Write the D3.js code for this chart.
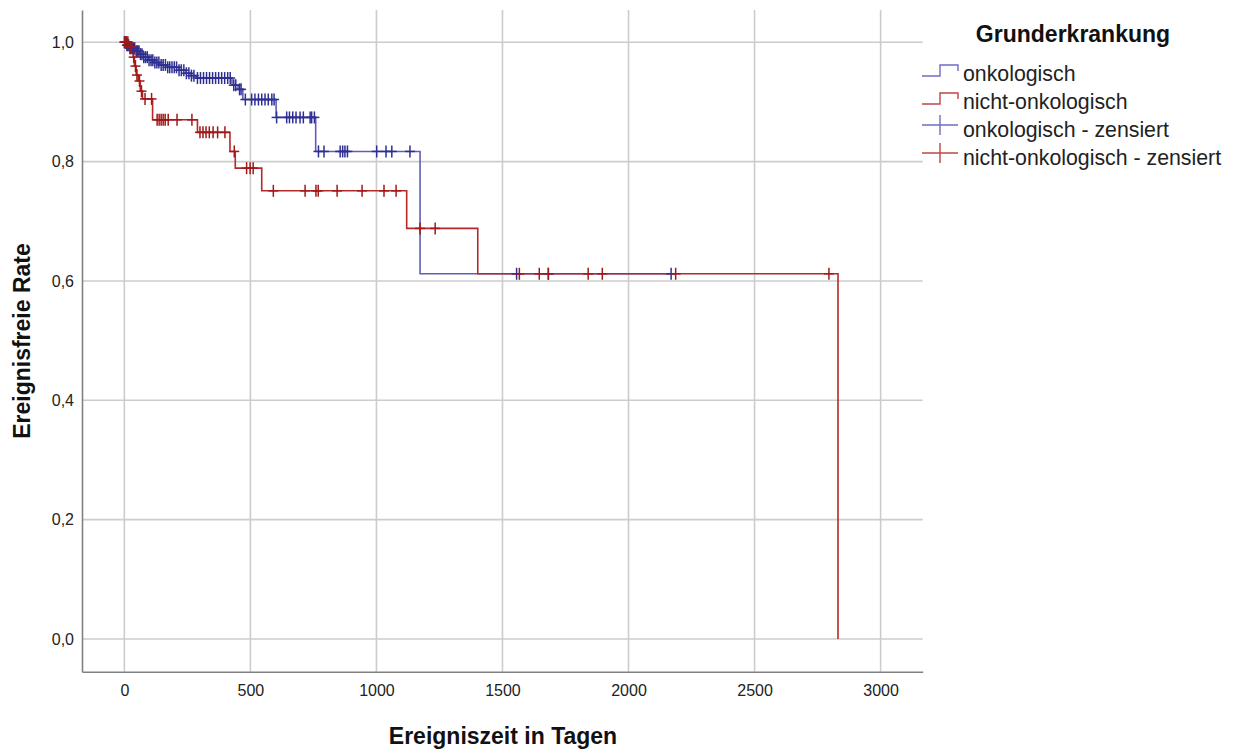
<!DOCTYPE html>
<html>
<head>
<meta charset="utf-8">
<script src="https://cdn.jsdelivr.net/npm/d3@7"></script>
<style>
  body { margin: 0; background: #fff; }
  svg { display: block; font-family: "Liberation Sans", Arial, sans-serif; }
</style>
</head>
<body>
<svg id="chart" width="1240" height="751"></svg>
<script>
// achsen
const xTicks = [0, 500, 1000, 1500, 2000, 2500, 3000];
const yTicks = [0, 0.2, 0.4, 0.6, 0.8, 1.0];
const groups = ["onkologisch", "nicht-onkologisch"];
const legendLabels = ["onkologisch", "nicht-onkologisch", "onkologisch - zensiert", "nicht-onkologisch - zensiert"];

// onkologisch: Ereignisse (Tag, Rate danach) und zensierte Faelle
const oncoEventDays = [0, 8, 20, 45, 60, 75, 95, 115, 140, 170, 215, 245, 265, 285, 427, 451, 470, 602, 759, 1173];
const oncoSurvival  = [1, 0.995, 0.990, 0.985, 0.980, 0.975, 0.970, 0.966, 0.962, 0.958, 0.953, 0.948, 0.944, 0.940, 0.928, 0.921, 0.904, 0.874, 0.817, 0.612];
const oncoCensorDays = [0, 3, 6, 10, 13, 17, 22, 26, 31, 36, 41, 47, 53, 58, 64, 70, 77, 84, 91, 98, 106, 113, 121, 129,
    137, 146, 154, 163, 172, 180, 189, 198, 207, 217, 226, 236, 246, 256, 266, 276, 290, 302, 314, 326, 338, 350, 362,
    374, 386, 398, 410, 420, 434, 442, 457, 463, 480, 505, 518, 532, 545, 558, 571, 585, 594, 604, 644, 655, 668, 681,
    697, 710, 737, 743, 754, 770, 792, 856, 866, 875, 885, 1001, 1038, 1061, 1133, 1556, 1682, 2169];

// nicht-onkologisch
const nonOncoEventDays = [0, 20, 35, 40, 47, 55, 63, 72, 112, 290, 419, 440, 545, 1120, 1402, 2831];
const nonOncoSurvival  = [1, 0.992, 0.975, 0.960, 0.945, 0.935, 0.918, 0.905, 0.870, 0.849, 0.817, 0.789, 0.751, 0.688, 0.612, 0];
const nonOncoCensorDays = [2, 6, 10, 14, 24, 28, 37, 44, 50, 60, 68, 82, 108, 130, 138, 146, 154, 162, 174, 209, 268,
    300, 312, 324, 337, 352, 370, 399, 436, 485, 499, 511, 591, 717, 760, 769, 844, 943, 1030, 1078, 1173, 1233,
    1567, 1646, 1682, 1840, 1896, 2187, 2795];

const lineColors = ["#5f5fb8", "#b42a2a"];
const markColors = ["#2f2f93", "#a01818"];
const legendColors = ["#6d6dc2", "#c04444"];

const svg = d3.select("#chart");

const x = d3.scaleLinear().domain([-168, 3167]).range([82, 922.7]);
const y = d3.scaleLinear().domain([-0.0548, 1.054]).range([671.7, 10]);

const locale = d3.formatLocale({ decimal: ",", thousands: ".", grouping: [3], currency: ["", "€"] });
const fmtY = locale.format(".1f");

// gitter
svg.append("g").selectAll("line")
    .data(xTicks)
    .join("line")
    .attr("x1", d => x(d)).attr("x2", d => x(d))
    .attr("y1", y.range()[1]).attr("y2", y.range()[0])
    .attr("stroke", "#cccccc").attr("stroke-width", 1.6);

svg.append("g").selectAll("line")
    .data(yTicks)
    .join("line")
    .attr("x1", x.range()[0]).attr("x2", x.range()[1])
    .attr("y1", d => y(d)).attr("y2", d => y(d))
    .attr("stroke", "#cccccc").attr("stroke-width", 1.6);

// achsen
const xAxis = svg.append("g")
    .attr("transform", `translate(0,${y.range()[0]})`)
    .call(d3.axisBottom(x).tickValues(xTicks).tickFormat(d3.format("d")).tickSize(0).tickPadding(13));
const yAxis = svg.append("g")
    .attr("transform", `translate(${x.range()[0]},0)`)
    .call(d3.axisLeft(y).tickValues(yTicks).tickFormat(fmtY).tickSize(0).tickPadding(8));

[xAxis, yAxis].forEach(a => {
    a.select(".domain").attr("stroke", "#808080").attr("stroke-width", 1.6);
    a.selectAll("text").attr("font-size", 16).attr("fill", "#222").attr("font-family", "Liberation Sans, Arial, sans-serif");
});

// kurven
const stepLine = d3.line()
    .x(d => x(d[0]))
    .y(d => y(d[1]))
    .curve(d3.curveStepAfter);

const survAt = (days, surv, t) => {
    let s = surv[0];
    for (let i = 0; i < days.length; i++) {
        if (days[i] <= t) s = surv[i];
    }
    return s;
}

const series = [
    { days: oncoEventDays, surv: oncoSurvival, censor: oncoCensorDays },
    { days: nonOncoEventDays, surv: nonOncoSurvival, censor: nonOncoCensorDays }
];

series.forEach((s, i) => {
    let pts = s.days.map((d, k) => [d, s.surv[k]]);
    const lastCensor = d3.max(s.censor);
    const lastEvent = s.days[s.days.length - 1];
    if (lastCensor > lastEvent) pts.push([lastCensor, s.surv[s.surv.length - 1]]);
    svg.append("path")
        .datum(pts)
        .attr("fill", "none")
        .attr("stroke", lineColors[i])
        .attr("stroke-width", 1.6)
        .attr("d", stepLine);
});

series.forEach((s, i) => {
    const g = svg.append("g").attr("stroke", markColors[i]).attr("stroke-width", 1.5);
    s.censor.forEach(t => {
        const cx = x(t), cy = y(survAt(s.days, s.surv, t));
        g.append("line").attr("x1", cx).attr("x2", cx).attr("y1", cy - 6).attr("y2", cy + 6);
        g.append("line").attr("x1", cx - 5).attr("x2", cx + 5).attr("y1", cy).attr("y2", cy);
    });
});

// achsentitel
svg.append("text")
    .attr("x", 503).attr("y", 744)
    .attr("text-anchor", "middle")
    .attr("font-size", 23).attr("font-weight", "bold").attr("fill", "#111")
    .text("Ereigniszeit in Tagen");

svg.append("text")
    .attr("transform", "translate(30,341) rotate(-90)")
    .attr("text-anchor", "middle")
    .attr("font-size", 23).attr("font-weight", "bold").attr("fill", "#111")
    .text("Ereignisfreie Rate");

// legende
svg.append("defs").append("clipPath").attr("id", "legclip")
    .append("rect").attr("x", 900).attr("y", 0).attr("width", 322).attr("height", 200);

const leg = svg.append("g").attr("clip-path", "url(#legclip)");

leg.append("text")
    .attr("x", 1073).attr("y", 41.5)
    .attr("text-anchor", "middle")
    .attr("font-size", 23).attr("font-weight", "bold").attr("fill", "#111")
    .text("Grunderkrankung");

legendLabels.forEach((label, i) => {
    const base = 81 + i * 28;
    const c = legendColors[i % 2];
    if (i < 2) {
        leg.append("path")
            .attr("d", `M922,${base - 5} H940 V${base - 16} H958 V${base - 10}`)
            .attr("fill", "none").attr("stroke", c).attr("stroke-width", 1.4);
    } else {
        const cy = base - 12;
        leg.append("line").attr("x1", 922).attr("x2", 958).attr("y1", cy).attr("y2", cy)
            .attr("stroke", c).attr("stroke-width", 1.4);
        leg.append("line").attr("x1", 940).attr("x2", 940).attr("y1", cy - 10).attr("y2", cy + 10)
            .attr("stroke", c).attr("stroke-width", 1.4);
    }
    leg.append("text")
        .attr("x", 963).attr("y", base)
        .attr("font-size", 21.3).attr("fill", "#222")
        .text(label);
});
</script>
</body>
</html>
